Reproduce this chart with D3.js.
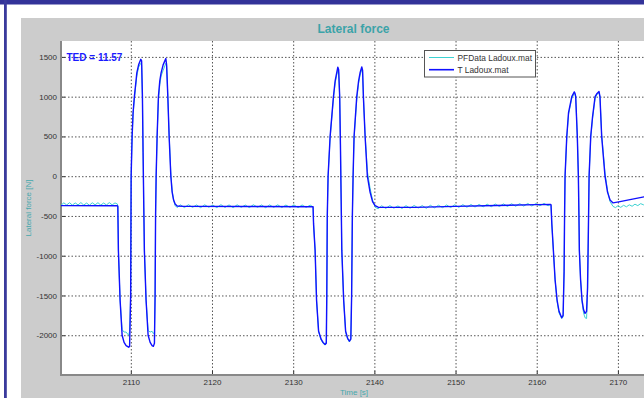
<!DOCTYPE html>
<html>
<head>
<meta charset="utf-8">
<script src="https://cdn.jsdelivr.net/npm/d3@7"></script>
<style>
  body { margin: 0; background: #ffffff; }
  svg { display: block; font-family: "Liberation Sans", Arial, sans-serif; }
</style>
</head>
<body>
<svg id="chart" width="644" height="398"></svg>
<script>
// ---- axis ticks ----
const timeTicks = [2110, 2120, 2130, 2140, 2150, 2160, 2170];
const forceTicks = [-2000, -1500, -1000, -500, 0, 500, 1000, 1500];
const timeRange = [2101.4, 2173.46];
const forceRange = [-2500, 1700];

const seriesNames = ["PFData Ladoux.mat", "T Ladoux.mat"];
const tedLabel = "TED = 11.57";

// ---- T Ladoux.mat : [time s, lateral force N] ----
const tLadoux = [
  [2101.40, -370], [2108.35, -372],
  [2108.40, -380], [2108.47, -930], [2108.68, -1560], [2108.93, -2000], [2109.17, -2090],
  [2109.42, -2130], [2109.73, -2150], [2109.85, -2140], [2109.98, -1500], [2110.04, 0],
  [2110.16, 500], [2110.28, 800], [2110.44, 1000], [2110.59, 1150], [2110.74, 1300],
  [2110.96, 1400], [2111.23, 1470], [2111.33, 1450], [2111.43, 1000], [2111.51, 300],
  [2111.60, -400], [2111.67, -930], [2111.88, -1560], [2112.13, -2000], [2112.38, -2090],
  [2112.62, -2130], [2112.78, -2140], [2112.91, -2100], [2112.99, -1500], [2113.05, -500],
  [2113.12, 0], [2113.24, 500], [2113.40, 1000], [2113.57, 1200], [2113.73, 1300],
  [2113.98, 1400], [2114.31, 1480], [2114.41, 1400], [2114.56, 1000], [2114.72, 500],
  [2114.93, 0], [2115.09, -200], [2115.27, -300], [2115.46, -350], [2115.70, -375],
  [2116.50, -380], [2125.00, -382], [2132.45, -385],
  [2132.51, -600], [2132.70, -930], [2132.88, -1560], [2133.13, -1950], [2133.44, -2050],
  [2133.68, -2090], [2133.93, -2115], [2134.08, -2100], [2134.14, -1500], [2134.20, -500],
  [2134.30, 0], [2134.55, 500], [2134.96, 1000], [2135.17, 1200], [2135.36, 1300],
  [2135.50, 1370], [2135.60, 1340], [2135.73, 1000], [2135.82, 400], [2135.91, -300],
  [2135.99, -930], [2136.22, -1560], [2136.46, -1950], [2136.71, -2040], [2136.93, -2075],
  [2137.10, -2050], [2137.20, -1500], [2137.29, -500], [2137.38, 0], [2137.50, 500],
  [2137.83, 1000], [2138.06, 1200], [2138.24, 1300], [2138.45, 1375], [2138.55, 1330],
  [2138.65, 1000], [2138.86, 500], [2139.14, 0], [2139.47, -200], [2139.78, -320],
  [2140.09, -370], [2140.46, -390], [2145.00, -392], [2150.00, -380], [2155.00, -368],
  [2160.00, -358], [2161.70, -355],
  [2161.76, -360], [2161.86, -600], [2162.05, -930], [2162.26, -1300], [2162.51, -1560],
  [2162.75, -1700], [2163.08, -1780], [2163.25, -1750], [2163.37, -1200], [2163.43, -500],
  [2163.49, 0], [2163.70, 500], [2163.92, 800], [2164.32, 1000], [2164.63, 1060],
  [2164.72, 1040], [2164.80, 1000], [2165.00, 500], [2165.13, 0], [2165.20, -500],
  [2165.25, -930], [2165.40, -1300], [2165.58, -1560], [2165.77, -1680], [2165.95, -1725],
  [2166.14, -1700], [2166.26, -1400], [2166.36, -700], [2166.45, 0], [2166.65, 500],
  [2166.88, 750], [2167.19, 1000], [2167.43, 1040], [2167.67, 1065], [2167.79, 1000],
  [2168.00, 500], [2168.41, 0], [2168.72, -200], [2169.03, -300], [2169.40, -336],
  [2170.26, -320], [2171.49, -295], [2173.21, -260], [2173.46, -255]
];

// ---- PFData Ladoux.mat : [time s, lateral force N] ----
const pfData = [
  [2101.40, -365], [2101.75, -335], [2102.10, -362], [2102.45, -333], [2102.80, -364],
  [2103.15, -336], [2103.50, -361], [2103.85, -332], [2104.20, -363], [2104.55, -338],
  [2104.90, -365], [2105.25, -334], [2105.60, -360], [2105.95, -333], [2106.30, -364],
  [2106.65, -337], [2107.00, -362], [2107.35, -332], [2107.70, -361], [2108.05, -336],
  [2108.35, -350],
  [2108.40, -380], [2108.47, -930], [2108.68, -1560], [2108.93, -1930], [2109.17, -1960],
  [2109.42, -1960], [2109.73, -2000], [2109.85, -1950], [2109.98, -1500], [2110.04, 0],
  [2110.16, 500], [2110.28, 780], [2110.44, 980], [2110.59, 1120], [2110.74, 1260],
  [2110.96, 1370], [2111.23, 1420], [2111.33, 1400], [2111.43, 1000], [2111.51, 300],
  [2111.60, -400], [2111.67, -930], [2111.88, -1560], [2112.13, -1940], [2112.38, -1960],
  [2112.62, -1950], [2112.78, -1980], [2112.91, -1960], [2112.99, -1500], [2113.05, -500],
  [2113.12, 0], [2113.24, 500], [2113.40, 960], [2113.57, 1150], [2113.73, 1260],
  [2113.98, 1330], [2114.31, 1420], [2114.41, 1380], [2114.56, 1000], [2114.72, 520],
  [2114.93, 40], [2115.09, -180], [2115.27, -300], [2115.46, -370], [2115.70, -395],
  [2116.10, -360], [2116.60, -395], [2117.10, -358], [2117.60, -392], [2118.10, -362],
  [2118.60, -396], [2119.10, -360], [2119.60, -390], [2120.10, -364], [2120.60, -395],
  [2121.10, -358], [2121.60, -393], [2122.10, -361], [2122.60, -396], [2123.10, -360],
  [2123.60, -392], [2124.10, -363], [2124.60, -395], [2125.10, -359], [2125.60, -391],
  [2126.10, -362], [2126.60, -396], [2127.10, -361], [2127.60, -392], [2128.10, -360],
  [2128.60, -394], [2129.10, -363], [2129.60, -391], [2130.10, -361], [2130.60, -395],
  [2131.10, -362], [2131.60, -392], [2132.10, -364], [2132.45, -385],
  [2132.51, -600], [2132.70, -930], [2132.88, -1560], [2133.13, -1950], [2133.44, -2060],
  [2133.68, -2100], [2133.93, -2125], [2134.08, -2080], [2134.14, -1500], [2134.20, -500],
  [2134.30, 0], [2134.55, 480], [2134.96, 980], [2135.17, 1170], [2135.36, 1270],
  [2135.50, 1330], [2135.60, 1310], [2135.73, 1000], [2135.82, 400], [2135.91, -300],
  [2135.99, -930], [2136.22, -1560], [2136.46, -1960], [2136.71, -2050], [2136.93, -2085],
  [2137.10, -2040], [2137.20, -1500], [2137.29, -500], [2137.38, 0], [2137.50, 480],
  [2137.83, 960], [2138.06, 1170], [2138.24, 1270], [2138.45, 1340], [2138.55, 1310],
  [2138.65, 1000], [2138.86, 520], [2139.14, 60], [2139.47, -150], [2139.78, -300],
  [2140.09, -390], [2140.46, -410],
  [2140.90, -372], [2141.40, -405], [2141.90, -370], [2142.40, -402], [2142.90, -374],
  [2143.40, -406], [2143.90, -371], [2144.40, -403], [2144.90, -368], [2145.40, -400],
  [2145.90, -370], [2146.40, -404], [2146.90, -366], [2147.40, -398], [2147.90, -365],
  [2148.40, -396], [2148.90, -362], [2149.40, -394], [2149.90, -360], [2150.40, -392],
  [2150.90, -358], [2151.40, -390], [2151.90, -356], [2152.40, -388], [2152.90, -355],
  [2153.40, -386], [2153.90, -352], [2154.40, -384], [2154.90, -350], [2155.40, -381],
  [2155.90, -348], [2156.40, -380], [2156.90, -346], [2157.40, -378], [2157.90, -345],
  [2158.40, -376], [2158.90, -343], [2159.40, -375], [2159.90, -344], [2160.40, -373],
  [2160.90, -342], [2161.40, -372], [2161.70, -355],
  [2161.76, -360], [2161.86, -600], [2162.05, -930], [2162.26, -1300], [2162.51, -1580],
  [2162.75, -1720], [2163.08, -1790], [2163.25, -1770], [2163.37, -1200], [2163.43, -500],
  [2163.49, 0], [2163.70, 480], [2163.92, 780], [2164.32, 980], [2164.63, 1040],
  [2164.72, 1030], [2164.80, 1000], [2165.00, 500], [2165.13, 0], [2165.20, -500],
  [2165.25, -930], [2165.40, -1300], [2165.58, -1580], [2165.77, -1720], [2165.95, -1780],
  [2166.14, -1790], [2166.26, -1450], [2166.36, -700], [2166.45, 0], [2166.65, 480],
  [2166.88, 730], [2167.19, 980], [2167.43, 1030], [2167.67, 1050], [2167.79, 1000],
  [2168.00, 520], [2168.41, 40], [2168.72, -180], [2169.03, -320], [2169.40, -380],
  [2169.70, -395], [2170.00, -372], [2170.35, -392], [2170.70, -366], [2171.05, -385],
  [2171.40, -360], [2171.75, -378], [2172.10, -352], [2172.45, -370], [2172.80, -345],
  [2173.15, -360], [2173.46, -343]
];

const seriesColors = ["#3cd2d2", "#1010ff"];

// ---- layout ----
const svg = d3.select("#chart");
const W = 644, H = 398;
const plot = { left: 61, top: 41, right: 646, bottom: 375 };

// window frame
svg.append("rect").attr("x", 0).attr("y", 0).attr("width", W).attr("height", H).attr("fill", "#ffffff");
svg.append("rect").attr("x", 21).attr("y", 18).attr("width", W).attr("height", H).attr("fill", "#cccccc");
svg.append("rect").attr("x", 0).attr("y", 0).attr("width", W).attr("height", 4.5).attr("fill", "#333399");
svg.append("rect").attr("x", 4).attr("y", 0).attr("width", 2.8).attr("height", H).attr("fill", "#3a3a9c");

// plot background
svg.append("rect")
  .attr("x", plot.left).attr("y", plot.top)
  .attr("width", plot.right - plot.left).attr("height", plot.bottom - plot.top)
  .attr("fill", "#ffffff");

const x = d3.scaleLinear().domain(timeRange).range([plot.left, plot.right]);
const y = d3.scaleLinear().domain(forceRange).range([plot.bottom, plot.top]);

// plain hyphen-minus tick labels
const plainNumber = d => String(d);

// dotted grid
const gridX = svg.append("g")
  .attr("transform", `translate(0,${plot.bottom})`)
  .call(d3.axisBottom(x).tickValues(timeTicks).tickSize(-(plot.bottom - plot.top)).tickFormat(""));
const gridY = svg.append("g")
  .attr("transform", `translate(${plot.left},0)`)
  .call(d3.axisLeft(y).tickValues(forceTicks).tickSize(-(plot.right - plot.left)).tickFormat(""));
[gridX, gridY].forEach(g => {
  g.select(".domain").remove();
  g.selectAll("line").attr("stroke", "#555").attr("stroke-width", 1).attr("stroke-dasharray", "1.5,2");
});

// inward tick marks
svg.append("g")
  .attr("transform", `translate(${plot.left},0)`)
  .call(d3.axisRight(y).tickValues(forceTicks).tickSize(4).tickFormat(""))
  .call(g => g.select(".domain").remove())
  .selectAll("line").attr("stroke", "#333");
svg.append("g")
  .attr("transform", `translate(0,${plot.bottom})`)
  .call(d3.axisTop(x).tickValues(timeTicks).tickSize(4).tickFormat(""))
  .call(g => g.select(".domain").remove())
  .selectAll("line").attr("stroke", "#333");

// tick labels
const yAxis = svg.append("g")
  .attr("transform", `translate(${plot.left},0)`)
  .call(d3.axisLeft(y).tickValues(forceTicks).tickSize(0).tickPadding(4).tickFormat(plainNumber));
yAxis.select(".domain").remove();
yAxis.selectAll("text").attr("fill", "#333").attr("font-size", 8).attr("font-family", "Liberation Sans, Arial, sans-serif");

const xAxis = svg.append("g")
  .attr("transform", `translate(0,${plot.bottom})`)
  .call(d3.axisBottom(x).tickValues(timeTicks).tickSize(0).tickPadding(4).tickFormat(plainNumber));
xAxis.select(".domain").remove();
xAxis.selectAll("text").attr("fill", "#333").attr("font-size", 8).attr("font-family", "Liberation Sans, Arial, sans-serif");

// axis lines
svg.append("line").attr("x1", plot.left).attr("x2", plot.left).attr("y1", plot.top).attr("y2", plot.bottom + 1)
  .attr("stroke", "#888").attr("stroke-width", 2);
svg.append("line").attr("x1", plot.left).attr("x2", plot.right).attr("y1", plot.bottom).attr("y2", plot.bottom)
  .attr("stroke", "#888").attr("stroke-width", 2);

// clip for the traces
svg.append("clipPath").attr("id", "plotClip")
  .append("rect").attr("x", plot.left).attr("y", plot.top)
  .attr("width", plot.right - plot.left).attr("height", plot.bottom - plot.top);

const line = d3.line().x(d => x(d[0])).y(d => y(d[1])).curve(d3.curveLinear);
const traces = svg.append("g").attr("clip-path", "url(#plotClip)");
traces.append("path").datum(pfData).attr("d", line)
  .attr("fill", "none").attr("stroke", seriesColors[0]).attr("stroke-width", 1).attr("stroke-linejoin", "round");
traces.append("path").datum(tLadoux).attr("d", line)
  .attr("fill", "none").attr("stroke", seriesColors[1]).attr("stroke-width", 1.4).attr("stroke-linejoin", "round");

// title and axis labels
svg.append("text").attr("x", (plot.left + plot.right) / 2).attr("y", 33)
  .attr("text-anchor", "middle").attr("font-size", 12).attr("font-weight", "bold")
  .attr("fill", "#3ba3a8").text("Lateral force");
svg.append("text").attr("x", 354).attr("y", 395)
  .attr("text-anchor", "middle").attr("font-size", 8).attr("fill", "#46a8ad").text("Time [s]");
svg.append("text").attr("transform", `translate(31,${(plot.top + plot.bottom) / 2}) rotate(-90)`)
  .attr("text-anchor", "middle").attr("font-size", 8).attr("fill", "#46a8ad").text("Lateral force [N]");

// TED annotation
svg.append("text").attr("x", 66.5).attr("y", 61)
  .attr("font-size", 10).attr("font-weight", "bold").attr("fill", "#1a1aff").text(tedLabel);

// legend
const legend = svg.append("g");
legend.append("rect").attr("x", 424.5).attr("y", 50.5).attr("width", 111).attr("height", 26.5)
  .attr("fill", "#ffffff").attr("stroke", "#555").attr("stroke-width", 1);
seriesNames.forEach((name, i) => {
  const ly = 57.5 + i * 12.2;
  legend.append("line").attr("x1", 429).attr("x2", 454).attr("y1", ly).attr("y2", ly)
    .attr("stroke", seriesColors[i]).attr("stroke-width", i === 0 ? 1 : 1.6);
  legend.append("text").attr("x", 457.5).attr("y", ly + 3)
    .attr("font-size", 8.4).attr("fill", "#333").text(name);
});
</script>
</body>
</html>
